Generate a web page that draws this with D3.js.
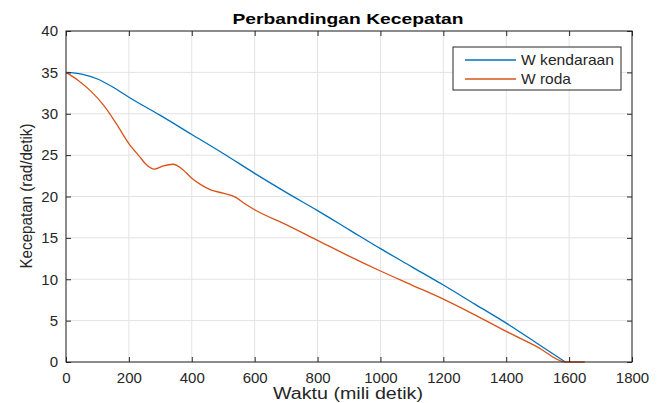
<!DOCTYPE html>
<html>
<head>
<meta charset="utf-8">
<script src="https://cdn.jsdelivr.net/npm/d3@7"></script>
<style>
body {margin: 0; background: #fff;}
text {font-family: 'Liberation Sans', Arial, sans-serif; fill: #262626;}
</style>
</head>
<body>
<div class="chart"></div>
<script>
// W kendaraan
var waktuKendaraan = [0, 50, 100, 150, 200, 300, 400, 500, 600, 700, 800, 900, 1000, 1100, 1200, 1300, 1400, 1500, 1588]
var wKendaraan     = [35, 34.8, 34.2, 33.2, 32.0, 29.8, 27.5, 25.2, 22.8, 20.5, 18.3, 16.0, 13.7, 11.5, 9.3, 7.0, 4.7, 2.2, 0]

// W roda
var waktuRoda = [0, 40, 80, 120, 160, 200, 230, 260, 280, 310, 340, 370, 400, 430, 460, 500, 540, 570, 600, 700, 800, 900, 1000, 1100, 1200, 1300, 1400, 1500, 1588, 1650]
var wRoda     = [35, 34, 32.7, 31, 28.8, 26.4, 25, 23.7, 23.3, 23.7, 23.9, 23.3, 22.2, 21.4, 20.8, 20.4, 19.9, 19.1, 18.4, 16.6, 14.7, 12.8, 11.0, 9.3, 7.6, 5.7, 3.7, 1.8, 0, 0]

var xTicks = [0, 200, 400, 600, 800, 1000, 1200, 1400, 1600, 1800]
var yTicks = [0, 5, 10, 15, 20, 25, 30, 35, 40]

var series = [
  {name: 'W kendaraan', color: '#0072bd', x: waktuKendaraan, y: wKendaraan, len: 93},
  {name: 'W roda', color: '#d95319', x: waktuRoda, y: wRoda, len: 50},
]

var width = 661, height = 403
var margin = {left: 66, right: 29, top: 31, bottom: 41}
var w = width - margin.left - margin.right
var h = height - margin.top - margin.bottom

var svg = d3.select('.chart').append('svg')
  .attr('width', width).attr('height', height)
var g = svg.append('g').attr('transform', `translate(${margin.left},${margin.top})`)

var x = d3.scaleLinear().domain([0, 1800]).range([0, w])
var y = d3.scaleLinear().domain([0, 40]).range([h, 0])

// grid
g.append('g').selectAll('line').data(xTicks).join('line')
  .attr('x1', x).attr('x2', x).attr('y1', 0).attr('y2', h)
  .attr('stroke', '#e3e3e3').attr('stroke-width', 1)
g.append('g').selectAll('line').data(yTicks).join('line')
  .attr('y1', y).attr('y2', y).attr('x1', 0).attr('x2', w)
  .attr('stroke', '#e3e3e3').attr('stroke-width', 1)

// lines
var line = d3.line().curve(d3.curveMonotoneX)
series.forEach(s => {
  g.append('path')
    .datum(s.x.map((v, i) => [x(v), y(s.y[i])]))
    .attr('d', line)
    .attr('fill', 'none')
    .attr('stroke', s.color)
    .attr('stroke-width', 1.3)
})

// axes, ticks inward like matlab
function styleAxis(sel){
  sel.select('.domain').remove()
  sel.selectAll('.tick line').attr('stroke', '#262626')
  sel.selectAll('.tick text').attr('font-size', 15).attr('fill', '#262626')
}
var fmt = d3.format('d')
g.append('g').attr('transform', `translate(0,${h})`)
  .call(d3.axisBottom(x).tickValues(xTicks).tickFormat(fmt).tickSizeInner(-5).tickSizeOuter(0).tickPadding(10))
  .call(styleAxis)
g.append('g')
  .call(d3.axisLeft(y).tickValues(yTicks).tickFormat(fmt).tickSizeInner(-5).tickSizeOuter(0).tickPadding(8))
  .call(styleAxis)
g.append('g')
  .call(d3.axisTop(x).tickValues(xTicks).tickSizeInner(-5).tickSizeOuter(0).tickFormat(''))
  .call(styleAxis)
g.append('g').attr('transform', `translate(${w},0)`)
  .call(d3.axisRight(y).tickValues(yTicks).tickSizeInner(-5).tickSizeOuter(0).tickFormat(''))
  .call(styleAxis)

g.append('rect')
  .attr('width', w).attr('height', h)
  .attr('fill', 'none').attr('stroke', '#262626').attr('stroke-width', 1)

// labels
svg.append('text')
  .attr('x', 348).attr('y', 24)
  .attr('text-anchor', 'middle').attr('font-size', 15).attr('font-weight', 'bold')
  .attr('textLength', 231).attr('lengthAdjust', 'spacingAndGlyphs')
  .style('fill', '#000')
  .text('Perbandingan Kecepatan')

svg.append('text')
  .attr('x', 348).attr('y', 399)
  .attr('text-anchor', 'middle').attr('font-size', 16)
  .attr('textLength', 150).attr('lengthAdjust', 'spacingAndGlyphs')
  .text('Waktu (mili detik)')

svg.append('text')
  .attr('transform', `translate(32,196) rotate(-90)`)
  .attr('text-anchor', 'middle').attr('font-size', 16)
  .attr('textLength', 145).attr('lengthAdjust', 'spacingAndGlyphs')
  .text('Kecepatan (rad/detik)')

// legend
var lg = g.append('g').attr('transform', `translate(${453 - margin.left},${47 - margin.top})`)
lg.append('rect').attr('width', 168).attr('height', 43)
  .attr('fill', '#fff').attr('stroke', '#262626').attr('stroke-width', 1)
series.forEach((s, i) => {
  var ly = 13 + i * 19
  lg.append('line').attr('x1', 12).attr('x2', 63).attr('y1', ly).attr('y2', ly)
    .attr('stroke', s.color).attr('stroke-width', 1.3)
  lg.append('text').attr('x', 68).attr('y', ly + 5)
    .attr('font-size', 15)
    .attr('textLength', s.len).attr('lengthAdjust', 'spacingAndGlyphs')
    .text(s.name)
})
</script>
</body>
</html>
